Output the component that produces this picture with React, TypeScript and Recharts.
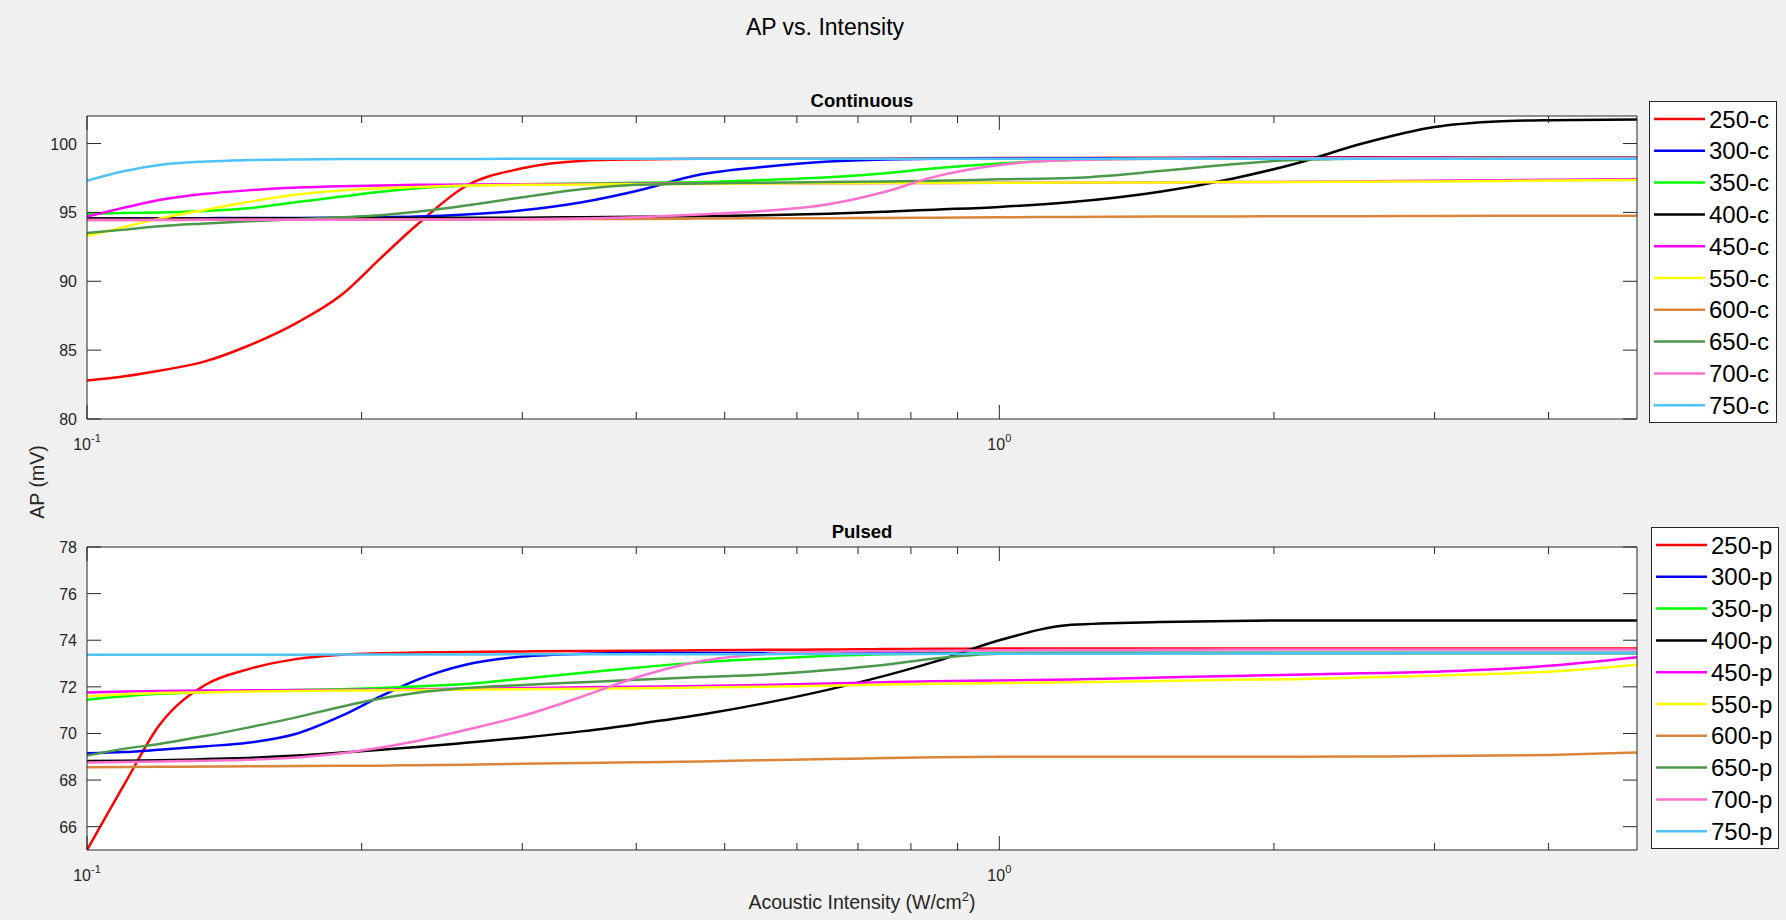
import React from 'react';
import { LineChart, Line, XAxis, YAxis, CartesianGrid } from 'recharts';

const FONT = '"Liberation Sans", Arial, Helvetica, sans-serif';
const AXIS = '#262626';
const PLOT_LEFT = 87;
const PLOT_W = 1550;
const PLOT_H = 303;
const X_LABEL_GAP = 31;
const Y_LABEL_GAP = 10;
const BOTTOM_AXIS_H = 40;
const LEFT_AXIS_W = 60;
const EDGE_AXIS = 10;

// acoustic intensity samples (W/cm^2)
const intensity = [0.1, 0.11, 0.12, 0.135, 0.15, 0.17, 0.19, 0.21, 0.23, 0.26, 0.3, 0.35, 0.4, 0.47, 0.55, 0.65, 0.75, 0.85, 1.0, 1.2, 1.5, 1.8, 2.1, 2.5, 3.0, 3.5, 4.0, 5.0];

// continuous stimulation, AP in mV
const ap250c = [82.8, 83.1, 83.5, 84.2, 85.3, 87.0, 89.0, 91.7, 94.1, 96.9, 98.2, 98.75, 98.85, 98.9, 98.9, 98.9, 98.92, 98.93, 98.95, 98.95, 98.97, 98.98, 99.0, 99.0, 99.0, 99.0, 99.0, 99.0];
const ap300c = [94.55, 94.55, 94.55, 94.58, 94.6, 94.6, 94.62, 94.65, 94.7, 94.85, 95.15, 95.75, 96.55, 97.75, 98.3, 98.7, 98.85, 98.9, 98.92, 98.93, 98.94, 98.95, 98.95, 98.95, 98.95, 98.95, 98.95, 98.95];
const ap350c = [94.9, 94.95, 95.0, 95.1, 95.3, 95.75, 96.15, 96.5, 96.75, 96.95, 97.05, 97.1, 97.15, 97.2, 97.35, 97.55, 97.85, 98.2, 98.55, 98.8, 98.9, 98.9, 98.92, 98.93, 98.94, 98.95, 98.95, 98.95];
const ap400c = [94.55, 94.55, 94.55, 94.56, 94.57, 94.58, 94.59, 94.6, 94.6, 94.61, 94.62, 94.65, 94.68, 94.73, 94.8, 94.9, 95.05, 95.2, 95.4, 95.75, 96.5, 97.45, 98.5, 100.0, 101.2, 101.6, 101.7, 101.75];
const ap450c = [94.7, 95.35, 95.9, 96.35, 96.6, 96.8, 96.9, 96.95, 97.0, 97.02, 97.05, 97.07, 97.08, 97.1, 97.11, 97.12, 97.13, 97.14, 97.15, 97.17, 97.19, 97.2, 97.22, 97.25, 97.3, 97.34, 97.37, 97.4];
const ap550c = [93.3, 93.95, 94.55, 95.2, 95.75, 96.3, 96.6, 96.75, 96.85, 96.95, 97.0, 97.02, 97.05, 97.07, 97.09, 97.11, 97.13, 97.14, 97.15, 97.17, 97.18, 97.2, 97.21, 97.23, 97.25, 97.28, 97.31, 97.35];
const ap600c = [94.45, 94.45, 94.46, 94.46, 94.47, 94.47, 94.48, 94.48, 94.49, 94.49, 94.5, 94.52, 94.53, 94.55, 94.57, 94.58, 94.6, 94.62, 94.65, 94.67, 94.7, 94.71, 94.72, 94.73, 94.74, 94.75, 94.75, 94.76];
const ap650c = [93.5, 93.75, 94.0, 94.2, 94.35, 94.5, 94.65, 94.8, 95.05, 95.5, 96.1, 96.7, 97.0, 97.1, 97.15, 97.2, 97.25, 97.3, 97.4, 97.5, 98.0, 98.5, 98.8, 98.9, 98.93, 98.95, 98.95, 98.95];
const ap700c = [94.45, 94.45, 94.45, 94.46, 94.46, 94.47, 94.47, 94.48, 94.48, 94.49, 94.5, 94.55, 94.65, 94.85, 95.1, 95.6, 96.5, 97.6, 98.45, 98.8, 98.9, 98.92, 98.93, 98.94, 98.95, 98.95, 98.95, 98.95];
const ap750c = [97.3, 98.0, 98.45, 98.7, 98.8, 98.85, 98.87, 98.88, 98.88, 98.88, 98.89, 98.89, 98.89, 98.9, 98.9, 98.9, 98.9, 98.9, 98.9, 98.9, 98.9, 98.9, 98.9, 98.9, 98.9, 98.9, 98.9, 98.9];

// pulsed stimulation, AP in mV
const ap250p = [65.0, 67.85, 70.35, 72.1, 72.75, 73.2, 73.38, 73.44, 73.47, 73.5, 73.52, 73.54, 73.55, 73.57, 73.59, 73.6, 73.62, 73.63, 73.65, 73.65, 73.65, 73.65, 73.65, 73.65, 73.65, 73.65, 73.65, 73.65];
const ap300p = [69.15, 69.2, 69.3, 69.45, 69.6, 70.0, 70.75, 71.6, 72.3, 72.95, 73.3, 73.42, 73.45, 73.45, 73.45, 73.45, 73.45, 73.45, 73.45, 73.45, 73.45, 73.45, 73.45, 73.45, 73.45, 73.45, 73.45, 73.45];
const ap350p = [71.45, 71.6, 71.7, 71.78, 71.83, 71.87, 71.9, 71.95, 72.02, 72.12, 72.35, 72.6, 72.82, 73.05, 73.2, 73.33, 73.4, 73.42, 73.45, 73.45, 73.45, 73.45, 73.45, 73.45, 73.45, 73.45, 73.45, 73.45];
const ap400p = [68.82, 68.83, 68.85, 68.9, 68.95, 69.05, 69.18, 69.3, 69.42, 69.6, 69.82, 70.1, 70.4, 70.8, 71.28, 71.88, 72.48, 73.08, 74.0, 74.66, 74.78, 74.83, 74.85, 74.85, 74.85, 74.85, 74.85, 74.85];
const ap450p = [71.76, 71.8, 71.82, 71.84, 71.85, 71.86, 71.87, 71.88, 71.9, 71.92, 71.95, 71.98, 72.0, 72.04, 72.08, 72.14, 72.2, 72.24, 72.27, 72.32, 72.4, 72.47, 72.52, 72.58, 72.65, 72.75, 72.9, 73.27];
const ap550p = [71.6, 71.68, 71.74, 71.77, 71.8, 71.82, 71.84, 71.85, 71.86, 71.88, 71.9, 71.92, 71.94, 71.97, 72.0, 72.05, 72.1, 72.13, 72.16, 72.2, 72.25, 72.3, 72.33, 72.4, 72.48, 72.56, 72.65, 72.95];
const ap600p = [68.55, 68.56, 68.57, 68.58, 68.59, 68.6, 68.61, 68.62, 68.64, 68.66, 68.7, 68.73, 68.76, 68.8, 68.85, 68.9, 68.95, 68.98, 69.0, 69.0, 69.0, 69.0, 69.0, 69.01, 69.03, 69.05, 69.08, 69.18];
const ap650p = [69.05, 69.35, 69.55, 69.9, 70.25, 70.7, 71.15, 71.5, 71.75, 71.95, 72.08, 72.2, 72.3, 72.42, 72.52, 72.72, 72.95, 73.22, 73.42, 73.45, 73.45, 73.45, 73.45, 73.45, 73.45, 73.45, 73.45, 73.45];
const ap700p = [68.75, 68.78, 68.8, 68.83, 68.87, 68.97, 69.15, 69.4, 69.68, 70.15, 70.75, 71.6, 72.4, 73.1, 73.4, 73.5, 73.53, 73.55, 73.57, 73.58, 73.59, 73.6, 73.6, 73.6, 73.6, 73.6, 73.6, 73.6];
const ap750p = [73.38, 73.38, 73.38, 73.38, 73.38, 73.38, 73.39, 73.39, 73.39, 73.39, 73.4, 73.4, 73.4, 73.4, 73.4, 73.41, 73.41, 73.41, 73.42, 73.42, 73.43, 73.43, 73.44, 73.44, 73.45, 73.45, 73.45, 73.45];

const wavelengths = ['250', '300', '350', '400', '450', '550', '600', '650', '700', '750'];
const lineColors = ['#FF0000', '#0000FF', '#00FF00', '#000000', '#FF00FF', '#FFFF00', '#D9853B', '#4C994C', '#FF70CF', '#4DC4F5'];

const continuousValues = [ap250c, ap300c, ap350c, ap400c, ap450c, ap550c, ap600c, ap650c, ap700c, ap750c];
const pulsedValues = [ap250p, ap300p, ap350p, ap400p, ap450p, ap550p, ap600p, ap650p, ap700p, ap750p];

const xTicks = [0.1, 0.2, 0.3, 0.4, 0.5, 0.6, 0.7, 0.8, 0.9, 1, 2, 3, 4];
const decadeTicks = [0.1, 1];
const contYTicks = [80, 85, 90, 95, 100];
const pulsedYTicks = [66, 68, 70, 72, 74, 76, 78];

type Series = { name: string; color: string; values: number[] };

const makeSeries = (suffix: string, values: number[][]): Series[] =>
  wavelengths.map((w, i) => ({ name: `${w}-${suffix}`, color: lineColors[i], values: values[i] }));

const continuous = makeSeries('c', continuousValues);
const pulsed = makeSeries('p', pulsedValues);

function buildRows(series: Series[]) {
  return intensity.map((x, i) => {
    const row: Record<string, number> = { x };
    series.forEach((s) => {
      row[s.name] = s.values[i];
    });
    return row;
  });
}

// inward tick marks on bottom and top edges, decade labels as 10^n
const XTick = (props: any) => {
  const { x, y, payload } = props;
  const v = payload.value;
  const major = decadeTicks.includes(v);
  const len = major ? 14 : 7;
  const axisY = y - X_LABEL_GAP;
  const exp = Math.round(Math.log10(v));
  return (
    <g>
      <line x1={x} x2={x} y1={axisY} y2={axisY - len} stroke={AXIS} strokeWidth={1} />
      <line x1={x} x2={x} y1={axisY - PLOT_H} y2={axisY - PLOT_H + len} stroke={AXIS} strokeWidth={1} />
      {major && (
        <text x={x} y={y} textAnchor="middle" fill={AXIS} fontSize={16} fontFamily={FONT}>
          10<tspan dy={-8} fontSize={11}>{exp}</tspan>
        </text>
      )}
    </g>
  );
};

// inward tick marks on left and right edges
const YTick = (props: any) => {
  const { x, y, payload } = props;
  const axisX = x + Y_LABEL_GAP;
  return (
    <g>
      <line x1={axisX} x2={axisX + 14} y1={y} y2={y} stroke={AXIS} strokeWidth={1} />
      <line x1={axisX + PLOT_W} x2={axisX + PLOT_W - 14} y1={y} y2={y} stroke={AXIS} strokeWidth={1} />
      <text x={x} y={y} dy={6} textAnchor="end" fill={AXIS} fontSize={16} fontFamily={FONT}>
        {payload.value}
      </text>
    </g>
  );
};

type PanelProps = {
  series: Series[];
  yDomain: [number, number];
  yTicks: number[];
  top: number;
  marginTop: number;
};

function Panel({ series, yDomain, yTicks, top, marginTop }: PanelProps) {
  const height = 460;
  const rows = buildRows(series);
  const margin = {
    top: marginTop - EDGE_AXIS,
    right: 1786 - PLOT_LEFT - PLOT_W - EDGE_AXIS,
    bottom: height - marginTop - PLOT_H - BOTTOM_AXIS_H,
    left: PLOT_LEFT - LEFT_AXIS_W,
  };
  return (
    <div style={{ position: 'absolute', left: 0, top, width: 1786, height }}>
      <LineChart width={1786} height={height} data={rows} margin={margin}>
        <CartesianGrid horizontal={false} vertical={false} fill="#ffffff" />
        <XAxis
          dataKey="x"
          type="number"
          scale="log"
          domain={[0.1, 5]}
          allowDataOverflow
          ticks={xTicks}
          interval={0}
          tick={<XTick />}
          tickLine={false}
          tickSize={0}
          tickMargin={X_LABEL_GAP}
          height={BOTTOM_AXIS_H}
          stroke={AXIS}
        />
        <XAxis
          xAxisId="top"
          orientation="top"
          dataKey="x"
          type="number"
          scale="log"
          domain={[0.1, 5]}
          allowDataOverflow
          tick={false}
          tickLine={false}
          height={EDGE_AXIS}
          stroke={AXIS}
        />
        <YAxis
          type="number"
          domain={yDomain}
          allowDataOverflow
          ticks={yTicks}
          interval={0}
          tick={<YTick />}
          tickLine={false}
          tickSize={0}
          tickMargin={Y_LABEL_GAP}
          width={LEFT_AXIS_W}
          stroke={AXIS}
        />
        <YAxis
          yAxisId="right"
          orientation="right"
          type="number"
          domain={yDomain}
          allowDataOverflow
          tick={false}
          tickLine={false}
          width={EDGE_AXIS}
          stroke={AXIS}
        />
        {series.map((s) => (
          <Line
            key={s.name}
            type="monotone"
            dataKey={s.name}
            stroke={s.color}
            strokeWidth={2.5}
            dot={false}
            activeDot={false}
            isAnimationActive={false}
          />
        ))}
      </LineChart>
    </div>
  );
}

function LegendBox({ series, left, top }: { series: Series[]; left: number; top: number }) {
  const rowH = 31.8;
  return (
    <g>
      <rect x={left + 0.5} y={top + 0.5} width={127} height={321} fill="#ffffff" stroke={AXIS} strokeWidth={1} />
      {series.map((s, i) => {
        const cy = top + 18 + i * rowH;
        return (
          <g key={s.name}>
            <line x1={left + 5} x2={left + 56} y1={cy} y2={cy} stroke={s.color} strokeWidth={2.5} />
            <text x={left + 60} y={cy + 8.6} fontSize={24} fontFamily={FONT} fill="#000">
              {s.name}
            </text>
          </g>
        );
      })}
    </g>
  );
}

export default function App() {
  return (
    <div style={{ position: 'absolute', left: 0, top: 0, width: 1786, height: 920, background: '#f0f0f0', fontFamily: FONT }}>
      <Panel series={continuous} yDomain={[80, 102]} yTicks={contYTicks} top={0} marginTop={116} />
      <Panel series={pulsed} yDomain={[65, 78]} yTicks={pulsedYTicks} top={460} marginTop={87} />
      <svg width={1786} height={920} style={{ position: 'absolute', left: 0, top: 0, pointerEvents: 'none' }}>
        <text x={825} y={35} textAnchor="middle" fontSize={23} fontFamily={FONT} fill="#000">
          AP vs. Intensity
        </text>
        <text x={862} y={107} textAnchor="middle" fontSize={18.5} fontWeight="bold" fontFamily={FONT} fill="#000">
          Continuous
        </text>
        <text x={862} y={538} textAnchor="middle" fontSize={18.5} fontWeight="bold" fontFamily={FONT} fill="#000">
          Pulsed
        </text>
        <text x={862} y={909} textAnchor="middle" fontSize={19.5} fontFamily={FONT} fill={AXIS}>
          Acoustic Intensity (W/cm<tspan dy={-8} fontSize={13}>2</tspan>
          <tspan dy={8}>)</tspan>
        </text>
        <text transform="translate(44,482) rotate(-90)" textAnchor="middle" fontSize={19.5} fontFamily={FONT} fill={AXIS}>
          AP (mV)
        </text>
        <LegendBox series={continuous} left={1649} top={101} />
        <LegendBox series={pulsed} left={1651} top={527} />
      </svg>
    </div>
  );
}
